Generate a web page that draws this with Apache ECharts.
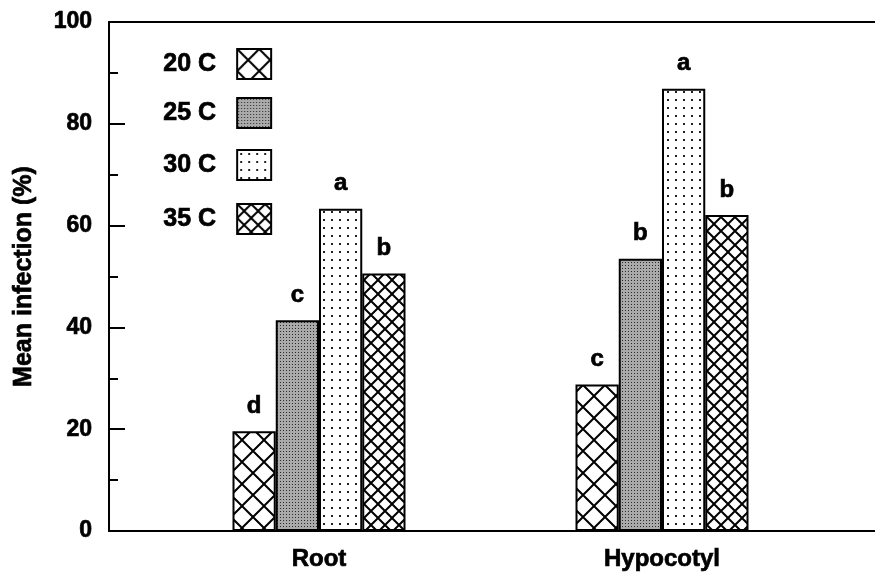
<!DOCTYPE html>
<html>
<head>
<meta charset="utf-8">
<script src="https://cdn.jsdelivr.net/npm/echarts@6/dist/echarts.min.js"></script>
<style>
  html, body { margin: 0; padding: 0; background: #fff; }
  #chart { width: 875px; height: 576px; }
</style>
</head>
<body>
<div id="chart"></div>
<script>
// ---- data ----
var categories = ['Root', 'Hypocotyl'];
var temps = ['20 C', '25 C', '30 C', '35 C'];
var v20 = [19.6, 28.8];
var v25 = [41.4, 53.5];
var v30 = [63.3, 86.9];
var v35 = [50.6, 62.1];
var letters20 = ['d', 'c'];
var letters25 = ['c', 'b'];
var letters30 = ['a', 'a'];
var letters35 = ['b', 'b'];
var yName = 'Mean infection (%)';

// ---- fill patterns ----
function hatch(P, lw) {
  var c = document.createElement('canvas');
  c.width = P; c.height = P;
  var g = c.getContext('2d');
  g.fillStyle = '#fff'; g.fillRect(0, 0, P, P);
  g.strokeStyle = '#000'; g.lineWidth = lw;
  g.beginPath();
  g.moveTo(-2, -2); g.lineTo(P + 2, P + 2);
  g.moveTo(-2, P + 2); g.lineTo(P + 2, -2);
  g.stroke();
  return c;
}
function stipple() {
  var c = document.createElement('canvas');
  c.width = 3; c.height = 3;
  var g = c.getContext('2d');
  g.fillStyle = '#aaaaaa'; g.fillRect(0, 0, 3, 3);
  g.fillStyle = '#2a2a2a'; g.fillRect(1, 1, 1, 1);
  return c;
}
function dots() {
  var c = document.createElement('canvas');
  c.width = 8; c.height = 8;
  var g = c.getContext('2d');
  g.fillStyle = '#fff'; g.fillRect(0, 0, 8, 8);
  g.fillStyle = '#222'; g.fillRect(3, 3, 2, 2);
  return c;
}
var patterns = [
  { image: hatch(22, 2), repeat: 'repeat' },
  { image: stipple(), repeat: 'repeat' },
  { image: dots(), repeat: 'repeat' },
  { image: hatch(14, 2), repeat: 'repeat' }
];

var FONT = 'Liberation Sans, Arial, sans-serif';
var HEAVY = { textBorderColor: '#000', textBorderWidth: 0.7 };
var values = [v20, v25, v30, v35];
var letters = [letters20, letters25, letters30, letters35];

var series = temps.map(function (t, i) {
  return {
    name: t,
    type: 'bar',
    xAxisIndex: 2,
    yAxisIndex: 1,
    data: values[i],
    barWidth: 43.25,
    barGap: '0%',
    itemStyle: { color: patterns[i], borderColor: '#000', borderWidth: 2 },
    label: {
      show: true,
      position: 'top',
      distance: 13,
      color: '#000',
      fontFamily: FONT,
      fontWeight: 'bold',
      fontSize: 24,
      textBorderColor: HEAVY.textBorderColor,
      textBorderWidth: HEAVY.textBorderWidth,
      formatter: function (p) { return letters[i][p.dataIndex]; }
    },
    emphasis: { disabled: true }
  };
});

var legendTops = [48, 97, 149, 203];
var legends = temps.map(function (t, i) {
  return {
    data: [t],
    left: 163,
    top: legendTops[i],
    padding: 0,
    align: 'right',
    orient: 'vertical',
    itemWidth: 34,
    itemHeight: 30,
    selectedMode: false,
    icon: 'rect',
    textStyle: {
      color: '#000',
      fontFamily: FONT,
      fontWeight: 'bold',
      fontSize: 25,
      textBorderColor: HEAVY.textBorderColor,
      textBorderWidth: HEAVY.textBorderWidth,
      padding: [0, 16, 0, 0]
    }
  };
});

var chart = echarts.init(document.getElementById('chart'), null, { renderer: 'canvas' });
chart.setOption({
  animation: false,
  backgroundColor: '#fff',
  legend: legends,
  grid: [
    { left: 109, right: 0, top: 22, bottom: 45, containLabel: false },
    { left: 147.5, width: 686, top: 22, bottom: 45, containLabel: false }
  ],
  xAxis: [
    { gridIndex: 0, type: 'value', min: 0, max: 1, position: 'bottom',
      axisLine: { show: true, onZero: false, lineStyle: { color: '#000', width: 2 } },
      axisTick: { show: false }, axisLabel: { show: false }, splitLine: { show: false } },
    { gridIndex: 0, type: 'value', min: 0, max: 1, position: 'top',
      axisLine: { show: true, onZero: false, lineStyle: { color: '#000', width: 2 } },
      axisTick: { show: false }, axisLabel: { show: false }, splitLine: { show: false } },
    { gridIndex: 1, type: 'category', data: categories, position: 'bottom',
      axisLine: { show: false }, axisTick: { show: false }, splitLine: { show: false },
      axisLabel: { color: '#000', fontFamily: FONT, fontWeight: 'bold', fontSize: 24, margin: 16,
        textBorderColor: HEAVY.textBorderColor, textBorderWidth: HEAVY.textBorderWidth } }
  ],
  yAxis: [
    { gridIndex: 0, type: 'value', min: 0, max: 100, interval: 20,
      name: yName, nameLocation: 'middle', nameRotate: 90, nameGap: 72,
      nameTextStyle: { color: '#000', fontFamily: FONT, fontWeight: 'bold', fontSize: 25,
        textBorderColor: HEAVY.textBorderColor, textBorderWidth: HEAVY.textBorderWidth },
      axisLine: { show: true, lineStyle: { color: '#000', width: 2 } },
      axisTick: { show: true, inside: true, length: 16, lineStyle: { color: '#000', width: 2 } },
      minorTick: { show: true, splitNumber: 2, length: 9, lineStyle: { color: '#000', width: 2 } },
      axisLabel: { color: '#000', fontFamily: FONT, fontWeight: 'bold', fontSize: 23, margin: 17,
        textBorderColor: HEAVY.textBorderColor, textBorderWidth: HEAVY.textBorderWidth },
      splitLine: { show: false } },
    { gridIndex: 1, type: 'value', min: 0, max: 100, show: false, splitLine: { show: false } }
  ],
  series: series
});
</script>
</body>
</html>
